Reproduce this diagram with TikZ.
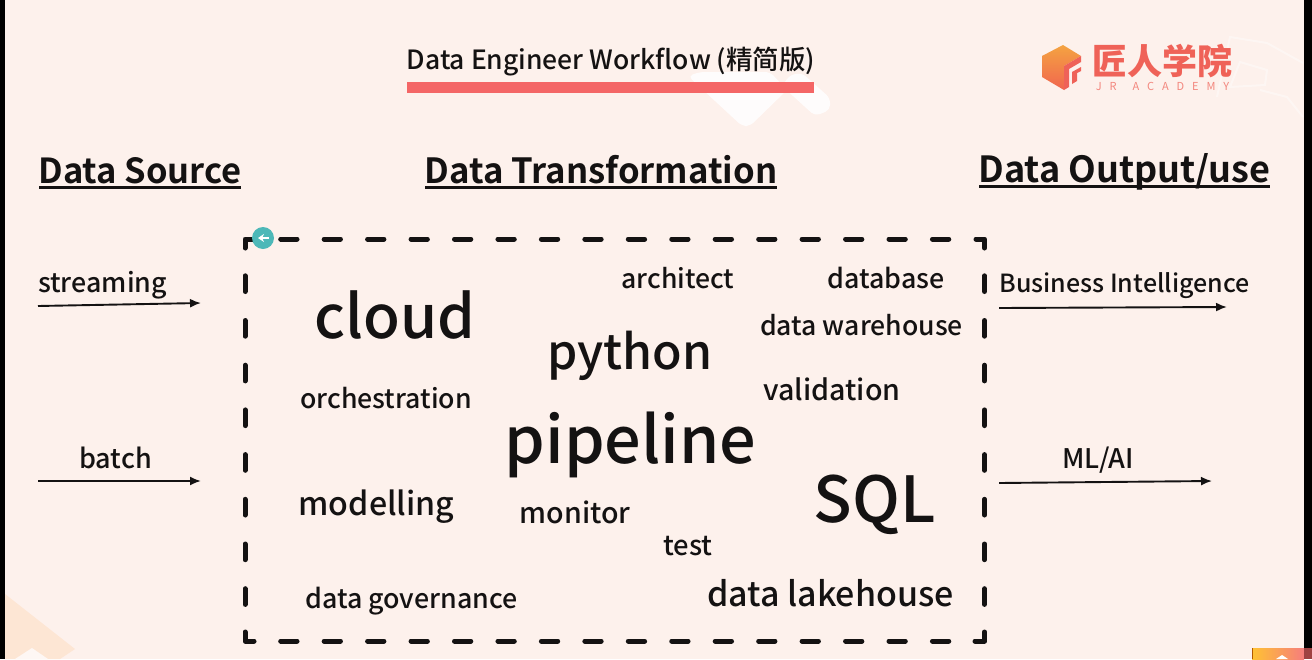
\documentclass[tikz,border=0pt]{standalone}
\usepackage{fontspec}
\usetikzlibrary{arrows.meta}
\setmainfont{Noto Sans CJK SC}[UprightFont={* Medium},BoldFont={* Bold}]
\newfontfamily\logofont{Noto Sans CJK SC}[UprightFont={* Black}]
\newfontfamily\subfont{Noto Sans CJK SC}[LetterSpace=72]
\definecolor{paper}{HTML}{FDF1EC}
\definecolor{ink}{HTML}{141212}
\definecolor{barred}{HTML}{F46666}
\definecolor{logored}{HTML}{EF6258}
\definecolor{logoorange}{HTML}{F4A341}
\definecolor{tealdot}{HTML}{4DB8B8}
\newcommand{\fs}[1]{\fontsize{#1}{#1}\selectfont}
\tikzset{x=1pt,y=-1pt,
  word/.style={inner sep=0pt,text=ink,anchor=base},
  head/.style={word,font=\bfseries\fs{#1}},
  headrule/.style={draw=ink,line width=2.6pt},
  flow/.style={draw=ink,line width=1.9pt,-{Latex[length=11pt,width=9pt]}},
  frame/.style={draw=ink,line width=5pt,line cap=round,line join=round},
}
\begin{document}
\begin{tikzpicture}
\useasboundingbox (0,0) rectangle (1312,659);
\fill[black] (0,0) rectangle (1312,659);
\fill[paper] (5,0) rectangle (1304,659);
% watermark shapes
\fill[white,opacity=.85,rounded corners=5pt] (688,76) -- (742,126) -- (750,126) -- (787,90) -- (770,72) -- (700,72) -- cycle;
\fill[white,opacity=.85,rounded corners=5pt] (782,86) -- (815,116) -- (830,110) -- (830,98) -- (802,73) -- (790,75) -- cycle;
\draw[white,opacity=.4,line width=2pt] (1217,97) -- (1230,37) -- (1267,43) -- (1303,63);
\draw[white,opacity=.4,line width=2pt] (1240,62) -- (1267,70) -- (1265,85) -- (1230,87) -- cycle;
\draw[white,opacity=.4,line width=2pt] (1260,90) -- (1287,97) -- (1303,117);
\fill[orange!10!paper] (5,594) -- (75,649) -- (60,659) -- (5,659) -- cycle;
\fill[paper!60!white] (15,659) -- (32,648) -- (48,659) -- cycle;
\shade[left color=orange!60!yellow!80!white,right color=barred!85!white] (1252,648) rectangle (1304,659);
\fill[orange!70!black] (1252,648) rectangle (1253,659);
\fill[barred!65!black] (1304,648) rectangle (1312,659);
\fill[white] (1276,659) -- (1282,655) -- (1288,659) -- cycle;
% title
\node[word,font=\fs{26.5}] (title) at (611,69) {Data Engineer Workflow (精简版)};
\fill[barred] (407,82) rectangle (814,93);
% heads
\node[head=34.5] (hsrc) at (140,183) {Data Source};
\node[head=34.7] (htra) at (601,183) {Data Transformation};
\node[head=36] (hout) at (1124.5,182) {Data Output/use};
\draw[headrule] (39,187.5) -- (241,187.5);
\draw[headrule] (425,187.5) -- (777,187.5);
\draw[headrule] (979,186.5) -- (1270,186.5);
% frame
\draw[frame] (245,248) -- (245,239) -- (256,239);
\draw[frame] (976,239) -- (984.5,239) -- (984.5,248);
\draw[frame] (245,632) -- (245,641) -- (254,641);
\draw[frame] (975,641) -- (984.5,641) -- (984.5,632);
\foreach \k in {0,...,15} {
  \draw[frame] ({280.7+43.45*\k},239) -- ({297+43.45*\k},239);
  \draw[frame] ({280.7+43.45*\k},641) -- ({297+43.45*\k},641);
}
\foreach \k in {0,...,7} {
  \draw[frame] (245,{275.8+44.7*\k}) -- (245,{291.5+44.7*\k});
  \draw[frame] (984.5,{275.8+44.7*\k}) -- (984.5,{291.5+44.7*\k});
}
\fill[tealdot] (263,238) circle (11);
\draw[white,line width=1.6pt,{Stealth[length=6pt,width=8pt]}-] (258,238) -- (269,238);
% words
\node[word,font=\fs{26.8}] (streaming) at (102.5,292) {streaming};
\node[word,font=\fs{27}] (batch) at (115.5,468) {batch};
\node[word,font=\fs{25}] (bi) at (1124.5,292) {Business Intelligence};
\node[word,font=\fs{27}] (ml) at (1098,468) {ML/AI};
\node[word,font=\fs{60}] (cloud) at (395,338) {cloud};
\node[word,font=\fs{26.6}] (architect) at (678,288) {architect};
\node[word,font=\fs{26.8}] (database) at (886,288) {database};
\node[word,font=\fs{26.6}] (warehouse) at (861.5,335) {data warehouse};
\node[word,font=\fs{48.2}] (python) at (630,369) {python};
\node[word,font=\fs{26.7}] (orchestration) at (386,408) {orchestration};
\node[word,font=\fs{28.6}] (validation) at (832,400) {validation};
\node[word,font=\fs{64.7}] (pipeline) at (630.5,463) {pipeline};
\node[word,font=\fs{32.2}] (modelling) at (376.5,515) {modelling};
\node[word,font=\fs{28.6}] (monitor) at (575,523) {monitor};
\node[word,font=\fs{63.5}] (sql) at (874.5,522) {SQL};
\node[word,font=\fs{27.4}] (test) at (688,555) {test};
\node[word,font=\fs{26.8}] (gov) at (411.5,608) {data governance};
\node[word,font=\fs{34}] (lake) at (830.5,606) {data lakehouse};
% arrows
\coordinate (a1) at (38,306); \coordinate (a2) at (201,303);
\coordinate (b1) at (38,481); \coordinate (b2) at (201,481);
\coordinate (c1) at (999,308); \coordinate (c2) at (1227,307);
\coordinate (d1) at (999,483); \coordinate (d2) at (1212,481);
\draw[flow] (a1) -- (a2);
\draw[flow] (b1) -- (b2);
\draw[flow] (c1) -- (c2);
\draw[flow] (d1) -- (d2);
% logo
\shade[top color=logoorange,bottom color=logored!90!orange] (1063,45) -- (1081,56) -- (1064,66) -- (1064,90) -- (1042,77) -- (1042,56) -- cycle;
\fill[logored] (1064,66) -- (1081,56) -- (1081,62) -- (1069,69) -- (1069,87) -- (1064,90) -- cycle;
\fill[logored] (1072,72) -- (1081,67) -- (1081,71) -- (1077,73) -- (1077,81) -- (1072,84) -- cycle;
\node[inner sep=0pt,text=logored,anchor=base,font=\logofont\fs{35}] (logo) at (1162,74) {匠人学院};
\node[inner sep=0pt,text=logored!75!paper,anchor=base,font=\subfont\fs{11}] (logosub) at (1162.5,90) {JR\hspace{16pt}ACADEMY};
\end{tikzpicture}
\end{document}
